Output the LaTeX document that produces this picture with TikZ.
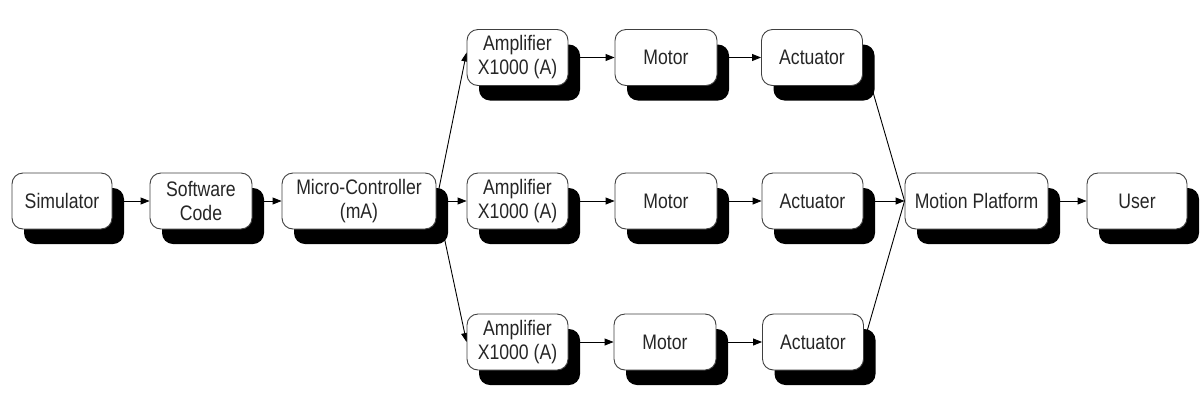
\documentclass[tikz,border=0pt]{standalone}
\usepackage{fontspec}
\setmainfont{Liberation Sans}[FakeStretch=0.84]
\usetikzlibrary{shadows,backgrounds,arrows.meta}
\begin{document}
\begin{tikzpicture}[x=1pt,y=-1pt,
  blk/.style={draw=black!75, line width=0.9pt, rounded corners=11pt, fill=white,
    minimum height=56pt, inner sep=0pt, align=center, text=black!85,
    font=\fontsize{21}{24}\selectfont,
    drop shadow={shadow xshift=12pt, shadow yshift=-15pt, fill=black, opacity=1}},
  conn/.style={line width=0.9pt, draw=black},
  arr/.style={conn, -{Triangle[length=9pt,width=7pt]}}]
\useasboundingbox (0,0) rectangle (1201,413);
\node[blk, minimum width=100pt] (sim) at (62,201) {Simulator};
\node[blk, minimum width=102pt] (sw) at (201,201) {Software\\Code};
\node[blk, minimum width=154pt] (mc) at (359,201) {Micro-Controller\\(mA)};
\node[blk, minimum width=101pt] (amp1) at (517.5,57.5) {Amplifier\\X1000 (A)};
\node[blk, minimum width=101pt] (amp2) at (517.5,201) {Amplifier\\X1000 (A)};
\node[blk, minimum width=101pt] (amp3) at (517.5,342) {Amplifier\\X1000 (A)};
\node[blk, minimum width=102pt] (mot1) at (666,57.5) {Motor};
\node[blk, minimum width=102pt] (mot2) at (666,201) {Motor};
\node[blk, minimum width=102pt] (mot3) at (665,342) {Motor};
\node[blk, minimum width=101pt] (act1) at (812,57.5) {Actuator};
\node[blk, minimum width=101pt] (act2) at (812.5,201) {Actuator};
\node[blk, minimum width=101pt] (act3) at (813,342) {Actuator};
\node[blk, minimum width=143pt] (mp) at (976.5,201) {Motion Platform};
\node[blk, minimum width=100pt] (user) at (1137,201) {User};
\begin{scope}[on background layer]
\draw[arr] (sim.east) -- (sw.west);
\draw[arr] (sw.east) -- (mc.west);
\draw[arr] (mc.east) -- ([yshift=5pt]amp1.west);
\draw[arr] (mc.east) -- (amp2.west);
\draw[arr] (mc.east) -- (amp3.west);
\draw[arr] (amp1.east) -- (mot1.west);
\draw[arr] (amp2.east) -- (mot2.west);
\draw[arr] (amp3.east) -- (mot3.west);
\draw[arr] (mot1.east) -- (act1.west);
\draw[arr] (mot2.east) -- (act2.west);
\draw[arr] (mot3.east) -- (act3.west);
\draw[conn] (act1.east) -- (mp.west);
\draw[conn] (act3.east) -- (mp.west);
\draw[arr] (act2.east) -- (mp.west);
\draw[arr] (mp.east) -- (user.west);
\end{scope}
\end{tikzpicture}
\end{document}
